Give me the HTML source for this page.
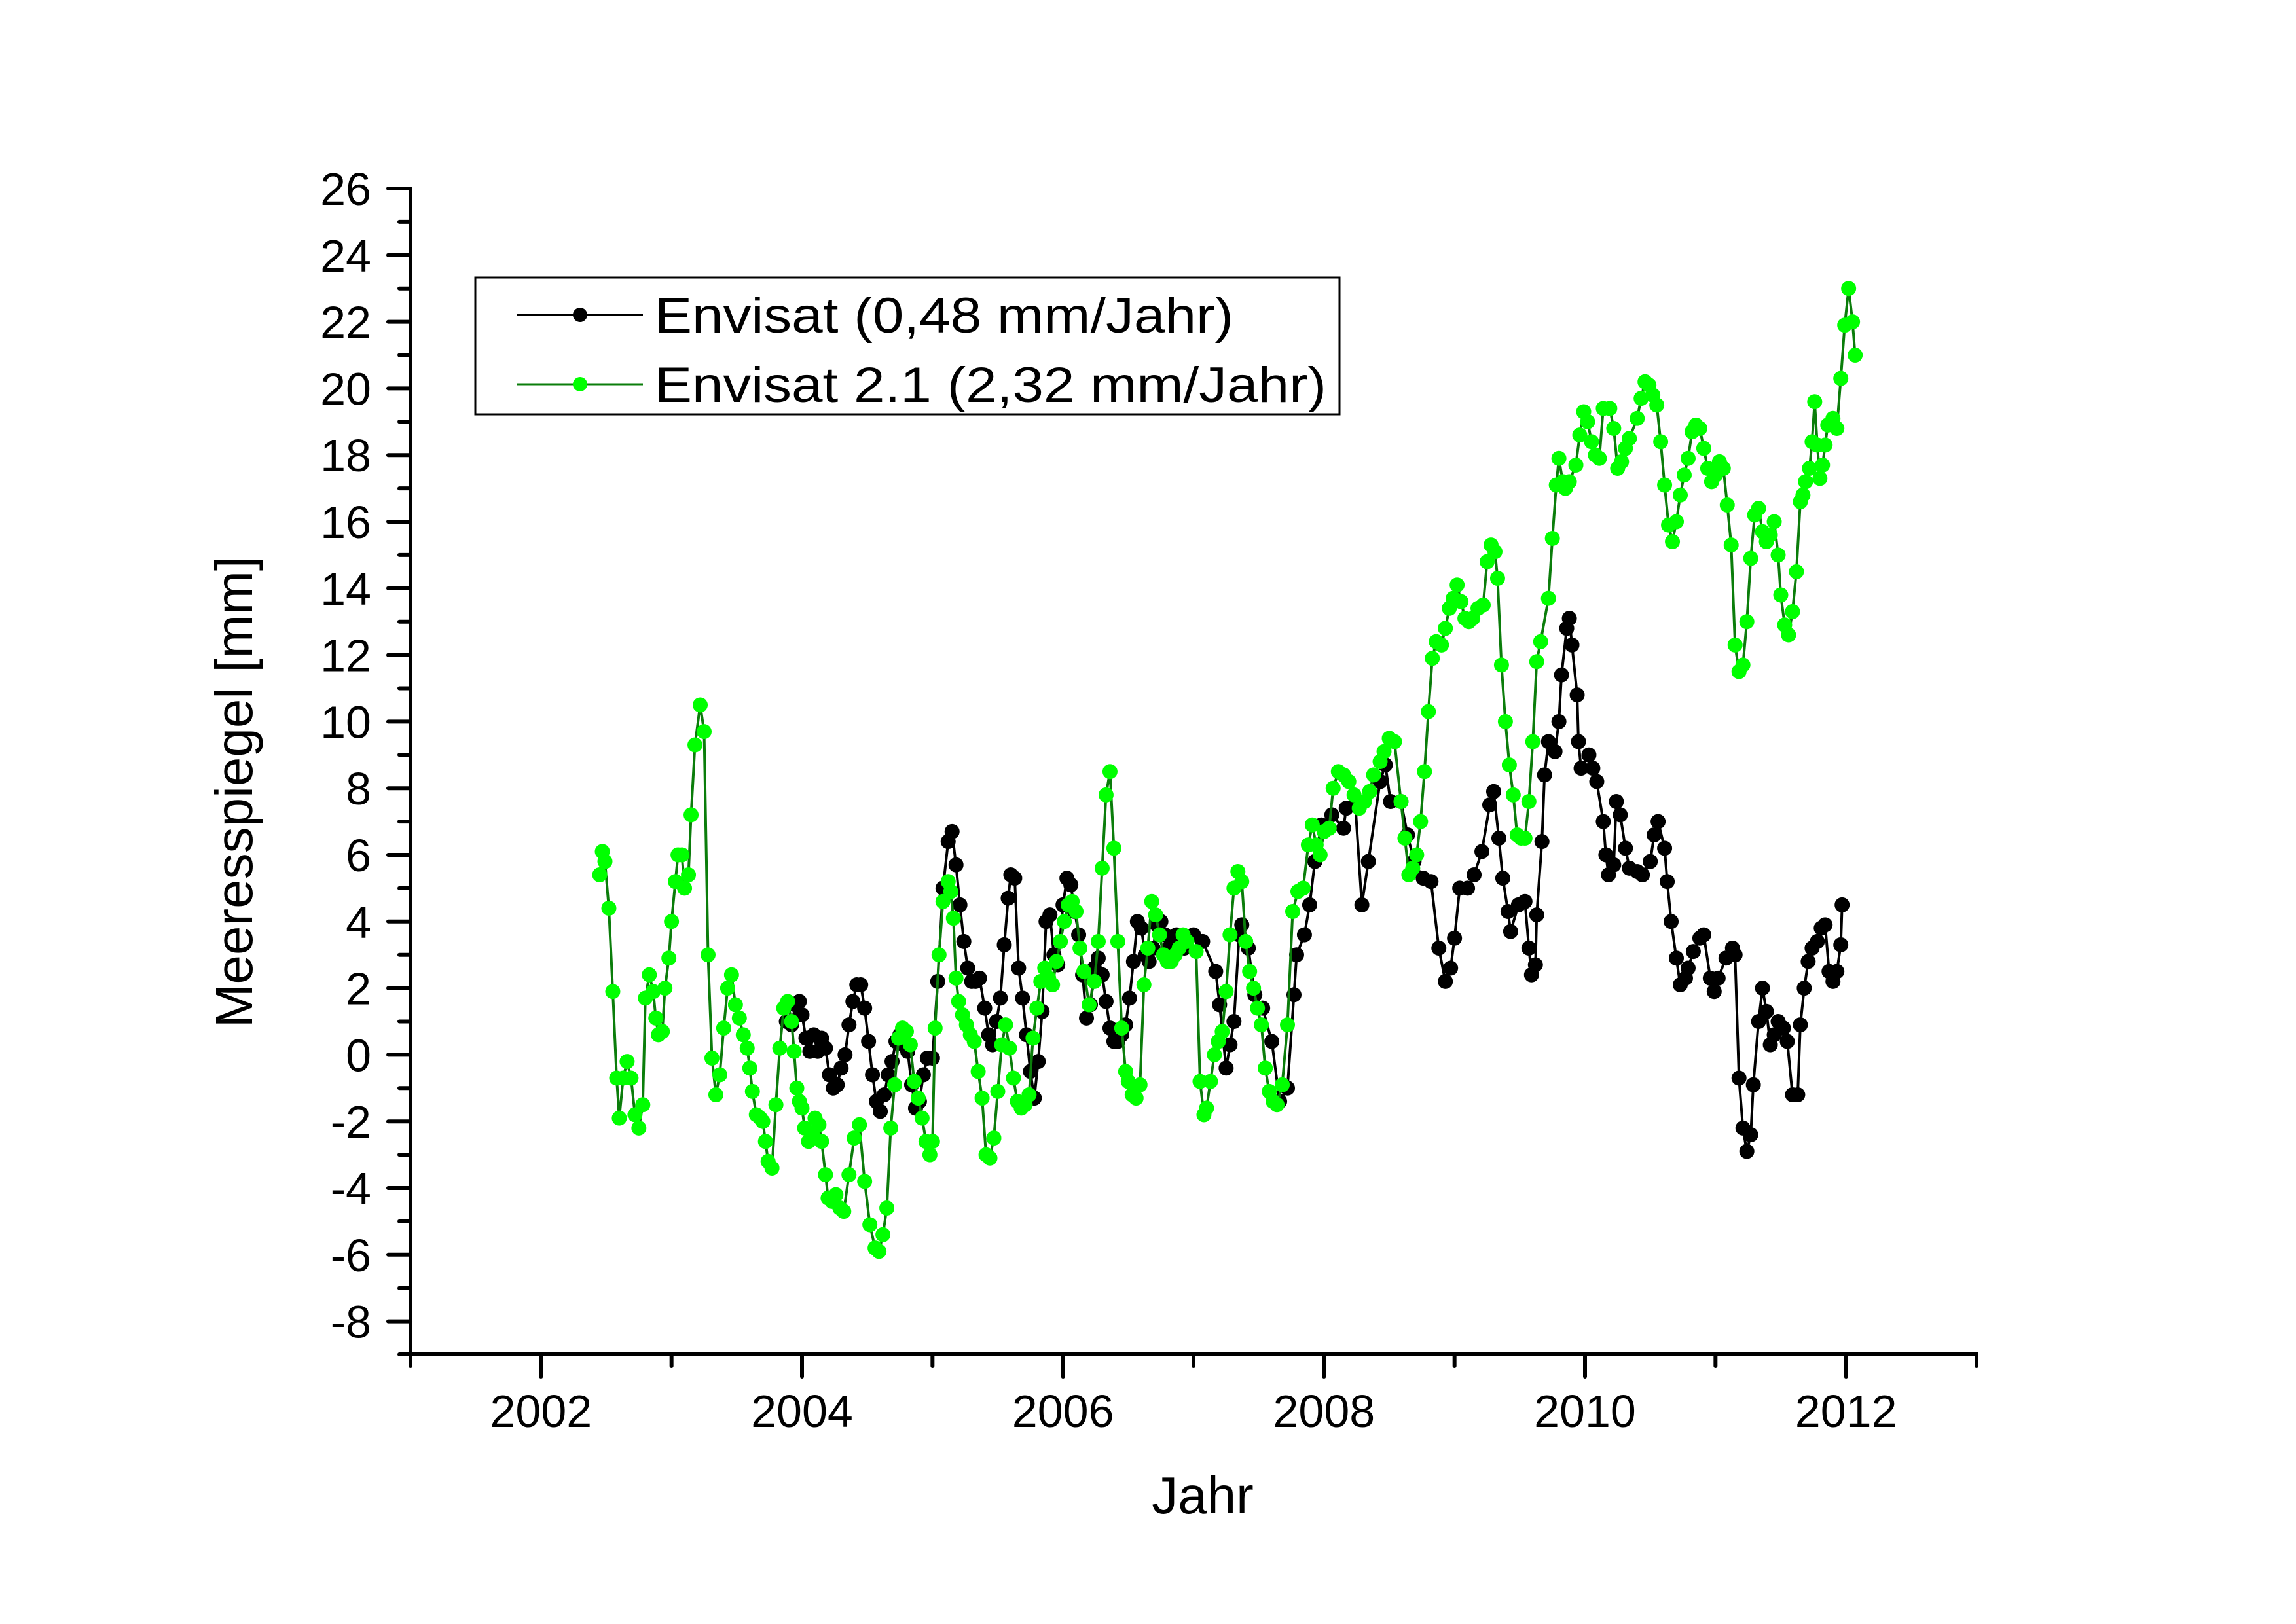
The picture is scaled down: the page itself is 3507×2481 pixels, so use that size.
<!DOCTYPE html>
<html><head><meta charset="utf-8"><style>
html,body{margin:0;padding:0;background:#fff}
svg{display:block}
text{font-family:"Liberation Sans",Arial,sans-serif;fill:#000}
</style></head><body>
<svg id="chart" width="3507" height="2481" viewBox="0 0 3507 2481" xmlns="http://www.w3.org/2000/svg">
<rect width="3507" height="2481" fill="#fff"/>
<g id="axes"></g>
<g id="series-black"></g>
<g id="series-green"></g>
<text x="1837" y="2312" font-size="80" text-anchor="middle">Jahr</text>
<text transform="translate(385,1210) rotate(-90)" font-size="80" text-anchor="middle">Meeresspiegel [mm]</text>
<g>
<rect x="726" y="424" width="1320" height="209" fill="#fff" stroke="#000" stroke-width="3"/>
<g>
<line x1="790" y1="481" x2="982" y2="481" stroke="#000" stroke-width="3"/>
<circle cx="886" cy="481" r="11" fill="#000"/>
<text x="1000" y="508" font-size="76" textLength="884" lengthAdjust="spacingAndGlyphs">Envisat (0,48 mm/Jahr)</text>
</g>
<g>
<line x1="790" y1="587" x2="982" y2="587" stroke="#0b7d0b" stroke-width="3"/>
<circle cx="886" cy="587" r="11" fill="#00ff00"/>
<text x="1000" y="614" font-size="76" textLength="1026" lengthAdjust="spacingAndGlyphs">Envisat 2.1 (2,32 mm/Jahr)</text>
</g>
</g>
</svg>
<script>
const yTickValues = [-8,-6,-4,-2,0,2,4,6,8,10,12,14,16,18,20,22,24,26];
const xTickYears = [2002,2004,2006,2008,2010,2012];
const blackYears = [2003.88,2003.92,2003.95,2003.98,2004.0,2004.03,2004.06,2004.09,2004.12,2004.15,2004.18,2004.21,2004.24,2004.27,2004.3,2004.33,2004.36,2004.39,2004.42,2004.45,2004.48,2004.51,2004.54,2004.57,2004.6,2004.63,2004.66,2004.69,2004.72,2004.75,2004.78,2004.81,2004.84,2004.87,2004.9,2004.93,2004.96,2005.0,2005.04,2005.08,2005.12,2005.15,2005.18,2005.21,2005.24,2005.27,2005.3,2005.33,2005.36,2005.4,2005.43,2005.46,2005.49,2005.52,2005.55,2005.58,2005.6,2005.63,2005.66,2005.69,2005.72,2005.75,2005.78,2005.81,2005.84,2005.87,2005.9,2005.93,2005.96,2006.0,2006.03,2006.06,2006.09,2006.12,2006.15,2006.18,2006.21,2006.24,2006.27,2006.3,2006.33,2006.36,2006.39,2006.42,2006.45,2006.48,2006.51,2006.54,2006.57,2006.6,2006.63,2006.66,2006.69,2006.72,2006.75,2006.78,2006.81,2006.84,2006.87,2006.93,2007.0,2007.07,2007.17,2007.2,2007.25,2007.28,2007.31,2007.35,2007.37,2007.42,2007.47,2007.53,2007.6,2007.66,2007.72,2007.77,2007.79,2007.85,2007.89,2007.93,2007.98,2008.06,2008.15,2008.17,2008.24,2008.29,2008.34,2008.43,2008.47,2008.51,2008.59,2008.64,2008.69,2008.76,2008.82,2008.88,2008.93,2008.97,2009.0,2009.04,2009.1,2009.15,2009.21,2009.27,2009.3,2009.34,2009.37,2009.41,2009.43,2009.49,2009.54,2009.57,2009.59,2009.62,2009.63,2009.67,2009.69,2009.72,2009.77,2009.8,2009.82,2009.86,2009.88,2009.9,2009.94,2009.95,2009.97,2010.03,2010.06,2010.09,2010.14,2010.16,2010.18,2010.22,2010.24,2010.27,2010.31,2010.34,2010.4,2010.44,2010.5,2010.53,2010.56,2010.61,2010.63,2010.66,2010.7,2010.73,2010.77,2010.79,2010.83,2010.88,2010.91,2010.96,2010.99,2011.02,2011.08,2011.13,2011.15,2011.18,2011.21,2011.24,2011.27,2011.29,2011.33,2011.36,2011.39,2011.42,2011.45,2011.48,2011.52,2011.55,2011.59,2011.63,2011.65,2011.68,2011.71,2011.74,2011.78,2011.81,2011.84,2011.87,2011.9,2011.93,2011.96,2011.97];
const blackValues = [1.0,0.9,1.5,1.6,1.2,0.5,0.1,0.6,0.1,0.5,0.2,-0.6,-1.0,-0.9,-0.4,0.0,0.9,1.6,2.1,2.1,1.4,0.4,-0.6,-1.4,-1.7,-1.2,-0.6,-0.2,0.4,0.6,0.3,0.1,-0.9,-1.6,-1.4,-0.6,-0.1,-0.1,2.2,5.0,6.4,6.7,5.7,4.5,3.4,2.6,2.2,2.2,2.3,1.4,0.6,0.3,1.0,1.7,3.3,4.7,5.4,5.3,2.6,1.7,0.6,-0.5,-1.3,-0.2,1.3,4.0,4.2,3.0,2.7,4.5,5.3,5.1,4.3,3.6,2.4,1.1,1.5,2.6,2.9,2.4,1.6,0.8,0.4,0.4,0.6,0.9,1.7,2.8,4.0,3.8,3.0,2.8,3.2,3.9,4.0,3.6,3.2,3.4,3.6,3.2,3.6,3.4,2.5,1.5,-0.4,0.3,1.0,3.6,3.9,3.2,1.8,1.4,0.4,-1.4,-1.0,1.8,3.0,3.6,4.5,5.8,6.9,7.2,6.8,7.4,7.5,4.5,5.8,8.2,8.7,7.6,7.6,6.6,5.8,5.3,5.2,3.2,2.2,2.6,3.5,5.0,5.0,5.4,6.1,7.5,7.9,6.5,5.3,4.3,3.7,4.5,4.6,3.2,2.4,2.7,4.2,6.4,8.4,9.4,9.1,10.0,11.4,12.8,13.1,12.3,10.8,9.4,8.6,9.0,8.6,8.2,7.0,6.0,5.4,5.7,7.6,7.2,6.2,5.6,5.5,5.4,5.8,6.6,7.0,6.2,5.2,4.0,2.9,2.1,2.3,2.6,3.1,3.5,3.6,2.3,1.9,2.3,2.9,3.2,3.0,-0.7,-2.2,-2.9,-2.4,-0.9,1.0,2.0,1.3,0.3,0.6,1.0,0.8,0.4,-1.2,-1.2,0.9,2.0,2.8,3.2,3.4,3.8,3.9,2.5,2.2,2.5,3.3,4.5];
const greenYears = [2002.45,2002.47,2002.49,2002.52,2002.55,2002.58,2002.6,2002.63,2002.66,2002.69,2002.72,2002.75,2002.78,2002.8,2002.83,2002.86,2002.88,2002.9,2002.93,2002.95,2002.98,2003.0,2003.03,2003.05,2003.08,2003.1,2003.13,2003.15,2003.18,2003.22,2003.25,2003.28,2003.31,2003.34,2003.37,2003.4,2003.43,2003.46,2003.49,2003.52,2003.55,2003.58,2003.6,2003.62,2003.65,2003.68,2003.7,2003.72,2003.74,2003.77,2003.8,2003.83,2003.86,2003.89,2003.92,2003.94,2003.96,2003.98,2004.0,2004.02,2004.05,2004.08,2004.1,2004.13,2004.15,2004.18,2004.2,2004.23,2004.26,2004.29,2004.32,2004.36,2004.4,2004.44,2004.48,2004.52,2004.56,2004.59,2004.62,2004.65,2004.68,2004.71,2004.74,2004.77,2004.8,2004.83,2004.86,2004.89,2004.92,2004.95,2004.98,2005.0,2005.02,2005.05,2005.08,2005.12,2005.14,2005.16,2005.18,2005.2,2005.23,2005.26,2005.29,2005.32,2005.35,2005.38,2005.41,2005.44,2005.47,2005.5,2005.53,2005.56,2005.59,2005.62,2005.65,2005.68,2005.71,2005.74,2005.77,2005.8,2005.83,2005.86,2005.89,2005.92,2005.95,2005.98,2006.01,2006.04,2006.07,2006.1,2006.13,2006.16,2006.2,2006.24,2006.27,2006.3,2006.33,2006.36,2006.39,2006.42,2006.45,2006.48,2006.5,2006.53,2006.56,2006.59,2006.62,2006.65,2006.68,2006.71,2006.74,2006.77,2006.8,2006.83,2006.86,2006.89,2006.92,2006.95,2007.02,2007.05,2007.08,2007.1,2007.13,2007.16,2007.19,2007.22,2007.25,2007.28,2007.31,2007.34,2007.37,2007.4,2007.43,2007.46,2007.49,2007.52,2007.55,2007.58,2007.61,2007.64,2007.68,2007.72,2007.76,2007.8,2007.84,2007.88,2007.91,2007.94,2007.97,2008.0,2008.04,2008.07,2008.11,2008.15,2008.19,2008.23,2008.27,2008.31,2008.35,2008.38,2008.43,2008.46,2008.5,2008.54,2008.59,2008.62,2008.65,2008.68,2008.71,2008.74,2008.77,2008.8,2008.83,2008.86,2008.9,2008.93,2008.96,2008.99,2009.02,2009.05,2009.08,2009.11,2009.14,2009.18,2009.22,2009.25,2009.28,2009.31,2009.33,2009.36,2009.39,2009.42,2009.45,2009.48,2009.51,2009.54,2009.57,2009.6,2009.63,2009.66,2009.72,2009.75,2009.78,2009.8,2009.83,2009.85,2009.88,2009.93,2009.96,2009.99,2010.02,2010.05,2010.08,2010.11,2010.14,2010.19,2010.22,2010.25,2010.28,2010.31,2010.34,2010.4,2010.43,2010.46,2010.49,2010.52,2010.55,2010.58,2010.61,2010.64,2010.67,2010.7,2010.73,2010.76,2010.79,2010.82,2010.85,2010.88,2010.91,2010.94,2010.97,2011.0,2011.03,2011.06,2011.09,2011.12,2011.15,2011.18,2011.21,2011.24,2011.27,2011.3,2011.33,2011.36,2011.39,2011.42,2011.45,2011.48,2011.5,2011.53,2011.56,2011.59,2011.62,2011.65,2011.67,2011.69,2011.72,2011.74,2011.76,2011.78,2011.8,2011.82,2011.84,2011.86,2011.9,2011.93,2011.96,2011.99,2012.02,2012.05,2012.07];
const greenValues = [5.4,6.1,5.8,4.4,1.9,-0.7,-1.9,-0.7,-0.2,-0.7,-1.8,-2.2,-1.5,1.7,2.4,1.9,1.1,0.6,0.7,2.0,2.9,4.0,5.2,6.0,6.0,5.0,5.4,7.2,9.3,10.5,9.7,3.0,-0.1,-1.2,-0.6,0.8,2.0,2.4,1.5,1.1,0.6,0.2,-0.4,-1.1,-1.8,-1.9,-2.0,-2.6,-3.2,-3.4,-1.5,0.2,1.4,1.6,1.0,0.1,-1.0,-1.4,-1.6,-2.2,-2.6,-2.4,-1.9,-2.1,-2.6,-3.6,-4.3,-4.4,-4.2,-4.6,-4.7,-3.6,-2.5,-2.1,-3.8,-5.1,-5.8,-5.9,-5.4,-4.6,-2.2,-0.9,0.5,0.8,0.7,0.3,-0.8,-1.3,-1.9,-2.6,-3.0,-2.6,0.8,3.0,4.6,5.2,4.9,4.1,2.3,1.6,1.2,0.9,0.6,0.4,-0.5,-1.3,-3.0,-3.1,-2.5,-1.1,0.3,0.9,0.2,-0.7,-1.4,-1.6,-1.5,-1.2,0.5,1.4,2.2,2.6,2.3,2.1,2.8,3.4,4.0,4.5,4.6,4.3,3.2,2.5,1.5,2.2,3.4,5.6,7.8,8.5,6.2,3.4,0.8,-0.5,-0.8,-1.2,-1.3,-0.9,2.1,3.2,4.6,4.2,3.6,3.0,2.8,2.8,3.0,3.2,3.6,3.4,3.1,-0.8,-1.8,-1.6,-0.8,0.0,0.4,0.7,1.9,3.6,5.0,5.5,5.2,3.4,2.5,2.0,1.4,0.9,-0.4,-1.1,-1.4,-1.5,-0.9,0.9,4.3,4.9,5.0,6.3,6.9,6.3,6.0,6.7,6.8,8.0,8.5,8.4,8.2,7.8,7.4,7.6,7.9,8.4,8.8,9.1,9.5,9.4,7.6,6.5,5.4,5.6,6.0,7.0,8.5,10.3,11.9,12.4,12.3,12.8,13.4,13.7,14.1,13.6,13.1,13.0,13.1,13.4,13.5,14.8,15.3,15.1,14.3,11.7,10.0,8.7,7.8,6.6,6.5,6.5,7.6,9.4,11.8,12.4,13.7,15.5,17.1,17.9,17.2,17.0,17.2,17.7,18.6,19.3,19.0,18.4,18.0,17.9,19.4,19.4,18.8,17.6,17.8,18.2,18.5,19.1,19.7,20.2,20.1,19.8,19.5,18.4,17.1,15.9,15.4,16.0,16.8,17.4,17.9,18.7,18.9,18.8,18.2,17.6,17.2,17.4,17.8,17.6,16.5,15.3,12.3,11.5,11.7,13.0,14.9,16.2,16.4,15.7,15.4,15.6,16.0,15.0,13.8,12.9,12.6,13.3,14.5,16.6,16.8,17.2,17.6,18.4,19.6,18.3,17.3,17.7,18.3,18.9,19.1,18.8,20.3,21.9,23.0,22.0,21.0,20.3,19.8];

const NS='http://www.w3.org/2000/svg';
const X0=627, X1=3019, YEAR0=2001, YEAR1=2013;
const YTOP=288, VTOP=26, PXU=50.9, YBOT=2069;
function xs(yr){return X0+(yr-YEAR0)*(X1-X0)/(YEAR1-YEAR0);}
function ys(v){return YTOP+(VTOP-v)*PXU;}
function mk(tag,attrs,parent){const e=document.createElementNS(NS,tag);for(const k in attrs)e.setAttribute(k,attrs[k]);parent.appendChild(e);return e;}

const axes=document.getElementById('axes');
const yAxis=mk('line',{x1:X0,y1:YTOP-3,x2:X0,y2:YBOT,stroke:'#000','stroke-width':6},axes);


const xAxis=mk('line',{x1:X0-3,y1:YBOT,x2:X1+3,y2:YBOT,stroke:'#000','stroke-width':6},axes);


for(let v=-8; v<=VTOP; v++){
  const major=yTickValues.includes(v);
  const t=mk('line',{x1:X0-(major?34:17),y1:ys(v),x2:X0,y2:ys(v),stroke:'#000','stroke-width':6,'stroke-linecap':'round'},axes);
  
  
}
const yb=mk('line',{x1:X0-17,y1:YBOT,x2:X0,y2:YBOT,stroke:'#000','stroke-width':6,'stroke-linecap':'round'},axes);


yTickValues.forEach(v=>{
  const t=mk('text',{x:567,y:ys(v)+25,'font-size':70,'text-anchor':'end'},axes);
  t.textContent=String(v);
  
  
});
for(let yr=YEAR0; yr<=YEAR1; yr++){
  const major=xTickYears.includes(yr);
  const t=mk('line',{x1:xs(yr),y1:YBOT,x2:xs(yr),y2:YBOT+(major?34:18),stroke:'#000','stroke-width':6,'stroke-linecap':'round'},axes);
  
  
}
xTickYears.forEach(yr=>{
  const t=mk('text',{x:xs(yr),y:2180,'font-size':70,'text-anchor':'middle'},axes);
  t.textContent=String(yr);
  
  
});

function drawSeries(gid,years,vals,lineColor,dotColor,name){
  const g=document.getElementById(gid);
  const pts=years.map((yr,i)=>xs(yr).toFixed(1)+','+ys(vals[i]).toFixed(1)).join(' ');
  const pl=mk('polyline',{points:pts,fill:'none',stroke:lineColor,'stroke-width':4,'stroke-linejoin':'round'},g);
  
  
  years.forEach((yr,i)=>{
    const e=mk('circle',{cx:xs(yr),cy:ys(vals[i]),r:11.5,fill:dotColor},g);
    
    
  });
}
drawSeries('series-black',blackYears,blackValues,'#000','#000','envisat');
drawSeries('series-green',greenYears,greenValues,'#0b7d0b','#00ff00','envisat-2-1');
</script>
</body></html>
